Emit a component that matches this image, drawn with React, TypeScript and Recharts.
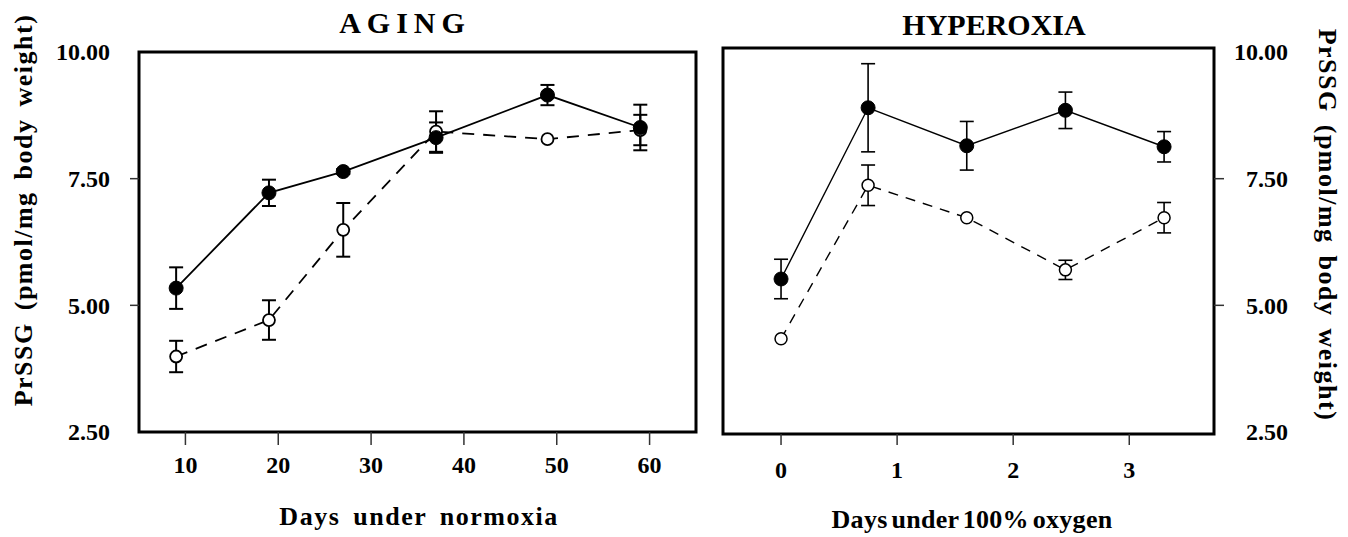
import React from 'react';
import { LineChart, Line, XAxis, YAxis, ErrorBar, ReferenceArea } from 'recharts';

const FONT = '"Liberation Serif", "Times New Roman", serif';

// AGING panel (days under normoxia)
const agingDays = [9, 19, 27, 37, 49, 59];
const agingFilled = [5.34, 7.22, 7.64, 8.31, 9.15, 8.51];
const agingFilledErr = [0.41, 0.26, 0.05, 0.3, 0.2, 0.45];
const agingOpen = [3.99, 4.71, 6.49, 8.43, 8.28, 8.46];
const agingOpenErr = [0.31, 0.39, 0.53, 0.4, 0, 0.3];
const agingTicks = [10, 20, 30, 40, 50, 60];

// HYPEROXIA panel (days under 100% oxygen)
const hyperDays = [0, 0.75, 1.6, 2.45, 3.3];
const hyperFilled = [5.52, 8.9, 8.15, 8.85, 8.13];
const hyperFilledErr = [0.39, 0.87, 0.48, 0.36, 0.3];
const hyperOpen = [4.34, 7.37, 6.73, 5.7, 6.73];
const hyperOpenErr = [0, 0.4, 0, 0.19, 0.3];
const hyperTicks = [0, 1, 2, 3];

const yTicks = [2.5, 5, 7.5, 10];

const agingData = agingDays.map((d, i) => ({
  x: d,
  filled: agingFilled[i],
  filledErr: agingFilledErr[i],
  open: agingOpen[i],
  openErr: agingOpenErr[i]
}));

const hyperData = hyperDays.map((d, i) => ({
  x: d,
  filled: hyperFilled[i],
  filledErr: hyperFilledErr[i],
  open: hyperOpen[i],
  openErr: hyperOpenErr[i]
}));

const tickText = { fontFamily: FONT, fontWeight: 700, fontSize: 24, fill: '#000' };

function XTick({ x, y, payload }: any) {
  return (
    <text x={x} y={y} dy="0.71em" textAnchor="middle" style={tickText}>
      {payload.value}
    </text>
  );
}

function LeftYTick({ x, y, payload }: any) {
  const v = payload.value;
  const edge = v === 2.5 || v === 10;
  return (
    <g>
      {!edge && <line x1={x + 20} x2={x + 29} y1={y} y2={y} stroke="#333" strokeWidth={1.5} />}
      <text x={x} y={y} dy="0.35em" textAnchor="end" style={tickText}>
        {Number(v).toFixed(2)}
      </text>
    </g>
  );
}

function RightYTick({ x, y, payload }: any) {
  const v = payload.value;
  const edge = v === 2.5 || v === 10;
  return (
    <g>
      {!edge && <line x1={x - 19} x2={x - 9} y1={y} y2={y} stroke="#333" strokeWidth={1.5} />}
      <text x={x + 55} y={y} dy="0.35em" textAnchor="end" style={tickText}>
        {Number(v).toFixed(2)}
      </text>
    </g>
  );
}

const titleStyle: React.CSSProperties = {
  position: 'absolute',
  fontFamily: FONT,
  fontWeight: 700,
  color: '#000',
  whiteSpace: 'nowrap',
  lineHeight: 1
};

function Label({ cx, cy, size, rotate = 0, spacing = 0, word = 0, children }: any) {
  return (
    <div
      style={{
        ...titleStyle,
        left: cx,
        top: cy,
        fontSize: size,
        letterSpacing: spacing,
        wordSpacing: word,
        transform: `translate(-50%, -50%) rotate(${rotate}deg)`
      }}
    >
      {children}
    </div>
  );
}

const openDot = (w: number) => ({ r: 6, fill: '#fff', stroke: '#000', strokeWidth: w, strokeDasharray: 'none' });
const filledDot = { r: 7, fill: '#000', stroke: '#000', strokeWidth: 1, strokeDasharray: 'none' };

export default function App() {
  return (
    <div style={{ position: 'fixed', left: 0, top: 0, width: 1348, height: 537, background: '#fff' }}>
      <div style={{ position: 'absolute', left: 0, top: 0 }}>
        <LineChart width={720} height={537} data={agingData} margin={{ top: 52, right: 24, bottom: 60, left: 0 }}>
          <XAxis
            dataKey="x"
            type="number"
            domain={[5, 65]}
            ticks={agingTicks}
            height={45}
            tickSize={13}
            tickMargin={11}
            axisLine={false}
            tickLine={{ stroke: '#333', strokeWidth: 1.5 }}
            tick={<XTick />}
          />
          <YAxis
            type="number"
            domain={[2.5, 10]}
            ticks={yTicks}
            width={139}
            tickSize={9}
            tickMargin={20}
            axisLine={false}
            tickLine={false}
            tick={<LeftYTick />}
          />
          <ReferenceArea x1={5} x2={65} y1={2.5} y2={10} fill="none" stroke="#000" strokeWidth={3} />
          <Line
            dataKey="open"
            stroke="#000"
            strokeWidth={1.8}
            strokeDasharray="12 9"
            dot={openDot(1.8)}
            isAnimationActive={false}
          >
            <ErrorBar dataKey="openErr" width={7} stroke="#000" strokeWidth={2} direction="y" isAnimationActive={false} />
          </Line>
          <Line dataKey="filled" stroke="#000" strokeWidth={1.8} dot={filledDot} isAnimationActive={false}>
            <ErrorBar dataKey="filledErr" width={7} stroke="#000" strokeWidth={2} direction="y" isAnimationActive={false} />
          </Line>
        </LineChart>
      </div>

      <div style={{ position: 'absolute', left: 700, top: 0 }}>
        <LineChart width={648} height={537} data={hyperData} margin={{ top: 48, right: 0, bottom: 58, left: 23 }}>
          <XAxis
            dataKey="x"
            type="number"
            domain={[-0.5, 3.73]}
            ticks={hyperTicks}
            height={45}
            tickSize={11}
            tickMargin={16}
            axisLine={false}
            tickLine={{ stroke: '#333', strokeWidth: 1.5 }}
            tick={<XTick />}
          />
          <YAxis
            orientation="right"
            type="number"
            domain={[2.46, 10.08]}
            ticks={yTicks}
            width={134}
            tickSize={9}
            tickMargin={10}
            axisLine={false}
            tickLine={false}
            tick={<RightYTick />}
          />
          <ReferenceArea x1={-0.5} x2={3.73} y1={2.46} y2={10.08} fill="none" stroke="#000" strokeWidth={3} />
          <Line
            dataKey="open"
            stroke="#000"
            strokeWidth={1.4}
            strokeDasharray="10 8"
            dot={openDot(1.5)}
            isAnimationActive={false}
          >
            <ErrorBar dataKey="openErr" width={7} stroke="#000" strokeWidth={1.6} direction="y" isAnimationActive={false} />
          </Line>
          <Line dataKey="filled" stroke="#000" strokeWidth={1.4} dot={filledDot} isAnimationActive={false}>
            <ErrorBar dataKey="filledErr" width={7} stroke="#000" strokeWidth={1.6} direction="y" isAnimationActive={false} />
          </Line>
        </LineChart>
      </div>

      <Label cx={405} cy={23} size={30} spacing={6}>AGING</Label>
      <Label cx={994} cy={25} size={30}>HYPEROXIA</Label>
      <Label cx={419} cy={517} size={26} spacing={1.5} word={5}>Days under normoxia</Label>
      <Label cx={972} cy={520} size={26} spacing={0.3} word={-3}>Days under 100% oxygen</Label>
      <Label cx={24} cy={210} size={26} rotate={-90} spacing={1.5} word={4}>PrSSG  (pmol/mg body weight)</Label>
      <Label cx={1327} cy={225} size={26} rotate={90} spacing={1.5} word={4}>PrSSG  (pmol/mg body weight)</Label>
    </div>
  );
}
